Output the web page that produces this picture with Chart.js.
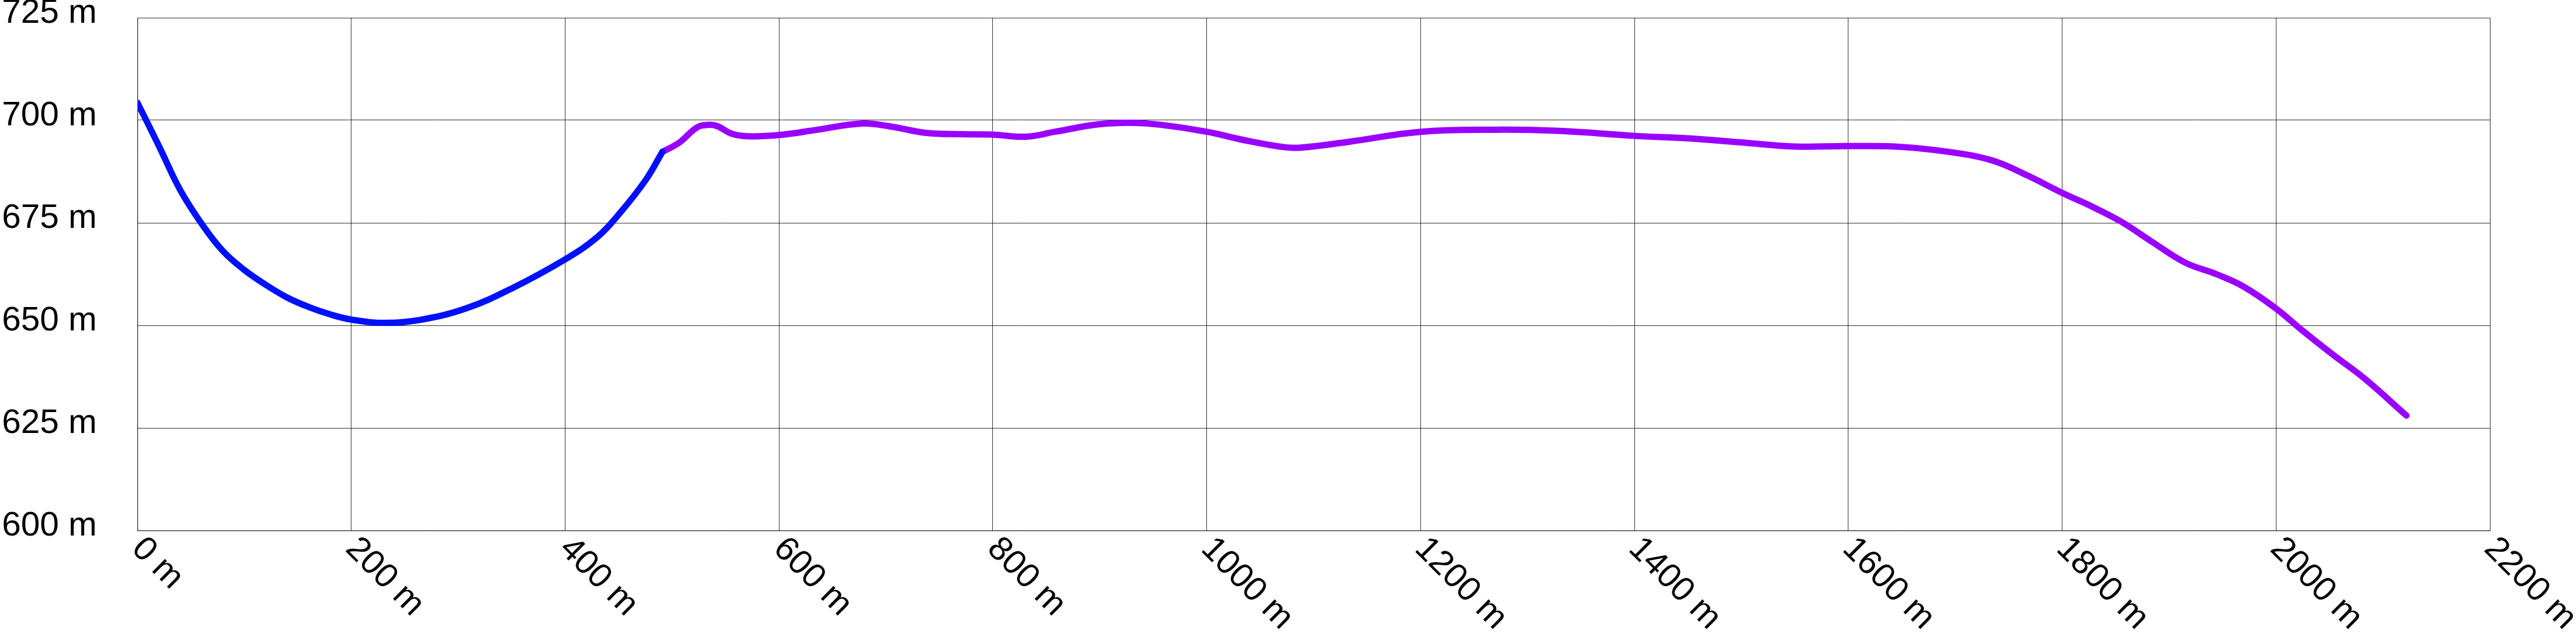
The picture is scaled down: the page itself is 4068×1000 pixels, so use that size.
<!DOCTYPE html>
<html>
<head>
<meta charset="utf-8">
<title>Elevation profile</title>
<script src="https://cdn.jsdelivr.net/npm/chart.js@4.4.1/dist/chart.umd.min.js"></script>
<style>
  html, body { margin: 0; padding: 0; background: #fff; }
  #wrap { width: 4068px; height: 1000px; }
</style>
</head>
<body>
<div id="wrap"><canvas id="profile" width="4068" height="1000"></canvas></div>
<script>
// distance (m) and elevation (m)
const blueDist = [0, 20, 40, 60, 80, 100, 120, 140, 160, 180, 200, 233, 266, 308, 350, 400, 430, 450, 475, 491];
const blueElev = [704.3, 693.8, 683, 674.8, 668.1, 663.5, 659.9, 656.8, 654.5, 652.7, 651.4, 650.6, 651.4, 654.2, 659, 666.1, 671.5, 677, 685.3, 692.3];

const purpleDist = [491, 507, 523, 534, 543, 555, 570, 600, 636, 677, 704, 738, 772, 800, 831, 858, 898, 928, 957, 1000,
  1036, 1068, 1086, 1134, 1200, 1270, 1330, 1400, 1450, 1500, 1550, 1600, 1650, 1707, 1737, 1767, 1800, 1826, 1855,
  1885, 1915, 1944, 1970, 2000, 2023, 2053, 2082, 2122];
const purpleElev = [692.3, 694.6, 698.2, 698.9, 698.5, 696.8, 696.1, 696.4, 697.7, 699.2, 698.5, 696.9, 696.6, 696.5, 696, 697.2, 699, 699.4, 698.9, 697.2,
  695.1, 693.6, 693.3, 694.8, 697.2, 697.7, 697.4, 696.2, 695.6, 694.6, 693.6, 693.7, 693.5, 691.8, 690, 686.6, 682.3, 679.2, 675.3,
  670.2, 665.3, 662.5, 659.4, 654.1, 649.1, 642.9, 637.2, 628];

const xMin = 0, xMax = 2200, xStep = 200;
const yMin = 600, yMax = 725, yStep = 25;
const unit = " m";

const FONT = { family: "'Liberation Sans', Arial, sans-serif", size: 54 };
const GRID = "rgba(0,0,0,0.75)";

function toPoints(xs, ys) {
  return xs.map((x, i) => ({ x: x, y: ys[i] }));
}

// x labels are drawn turned 45deg clockwise, starting at the tick
const slantedLabels = {
  id: "slantedLabels",
  afterDraw(chart) {
    const sc = chart.scales.x;
    const ctx = chart.ctx;
    ctx.save();
    ctx.font = FONT.size + "px " + FONT.family;
    ctx.fillStyle = "#000";
    ctx.textAlign = "left";
    ctx.textBaseline = "alphabetic";
    sc.ticks.forEach((t) => {
      const px = sc.getPixelForValue(t.value);
      ctx.save();
      ctx.translate(px - 11, sc.top + 31);
      ctx.rotate(Math.PI / 4);
      ctx.fillText(t.value + unit, 0, 0);
      ctx.restore();
    });
    ctx.restore();
  }
};

const lineStyle = {
  borderWidth: 10,
  borderCapStyle: "round",
  borderJoinStyle: "round",
  tension: 0.4,
  pointRadius: 0,
  fill: false
};

new Chart(document.getElementById("profile"), {
  type: "line",
  data: {
    datasets: [
      Object.assign({ data: toPoints(blueDist, blueElev), borderColor: "#0010ff" }, lineStyle),
      Object.assign({ data: toPoints(purpleDist, purpleElev), borderColor: "#9900ff" }, lineStyle)
    ]
  },
  options: {
    responsive: false,
    animation: false,
    devicePixelRatio: 1,
    layout: { padding: { top: 28, right: 136, bottom: 0, left: 0 } },
    plugins: { legend: { display: false }, tooltip: { enabled: false } },
    scales: {
      x: {
        type: "linear",
        min: xMin,
        max: xMax,
        grid: { color: GRID, lineWidth: 1, drawTicks: false },
        border: { color: GRID },
        ticks: { stepSize: xStep, display: false },
        afterFit(scale) {
          scale.height = 162;
          scale.paddingLeft = 0;
          scale.paddingRight = 0;
        }
      },
      y: {
        min: yMin,
        max: yMax,
        grid: { color: GRID, lineWidth: 1, drawTicks: false },
        border: { color: GRID },
        ticks: {
          stepSize: yStep,
          color: "#000",
          font: FONT,
          padding: 64,
          labelOffset: -7,
          callback: (v) => v + unit
        },
        afterFit(scale) {
          scale.width = 217;
          scale.paddingTop = 0;
          scale.paddingBottom = 0;
        }
      }
    }
  },
  plugins: [slantedLabels]
});
</script>
</body>
</html>
